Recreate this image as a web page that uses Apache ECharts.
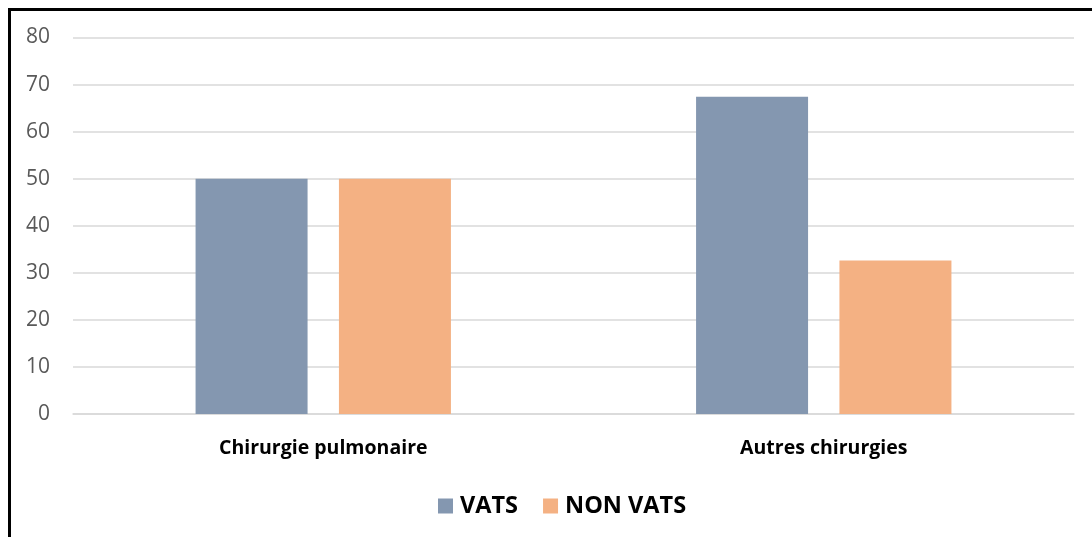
<!DOCTYPE html>
<html>
<head>
<meta charset="utf-8">
<script src="https://cdn.jsdelivr.net/npm/echarts@6/dist/echarts.min.js"></script>
<style>
  html, body { margin: 0; padding: 0; background: #fff; }
  #chart { width: 1092px; height: 537px; }
</style>
</head>
<body>
<div id="chart"></div>
<script>
var categories = ["Chirurgie pulmonaire", "Autres chirurgies"];
var vats = [50, 67.4];
var nonVats = [50, 32.6];
var seriesNames = ["VATS", "NON VATS"];

var chart = echarts.init(document.getElementById("chart"));
var font = "'Open Sans', Lato, sans-serif";

var option = {
    animation: false,
    backgroundColor: "#fff",
    graphic: [
        { type: "rect", shape: { x: 8, y: 8, width: 1084, height: 3 }, style: { fill: "#000" } },
        { type: "rect", shape: { x: 8, y: 8, width: 3, height: 529 }, style: { fill: "#000" } }
    ],
    grid: { left: 73, right: 18, top: 37.5, bottom: 123 },
    legend: {
        data: seriesNames,
        left: 433,
        top: 489,
        itemWidth: 15,
        itemHeight: 15,
        itemGap: 25,
        icon: "rect",
        textStyle: { fontFamily: font, fontSize: 23.5, fontWeight: "bold", color: "#000", padding: [0, 0, 0, 2] }
    },
    xAxis: {
        type: "category",
        data: categories,
        axisLine: { show: true, lineStyle: { color: "#d9d9d9", width: 1.5 } },
        axisTick: { show: false },
        axisLabel: { fontFamily: font, fontSize: 19.5, fontWeight: "bold", color: "#000", margin: 24 }
    },
    yAxis: {
        type: "value",
        min: 0,
        max: 80,
        interval: 10,
        axisLine: { show: false },
        axisTick: { show: false },
        splitLine: { lineStyle: { color: "#d9d9d9", width: 1.5 } },
        axisLabel: { fontFamily: font, fontSize: 21, color: "#595959", margin: 23 }
    },
    series: [
        {
            name: seriesNames[0],
            type: "bar",
            data: vats,
            barWidth: 112,
            barGap: "28%",
            itemStyle: { color: "#8497b0" }
        },
        {
            name: seriesNames[1],
            type: "bar",
            data: nonVats,
            barWidth: 112,
            itemStyle: { color: "#f4b183" }
        }
    ]
};
chart.setOption(option);
</script>
</body>
</html>
